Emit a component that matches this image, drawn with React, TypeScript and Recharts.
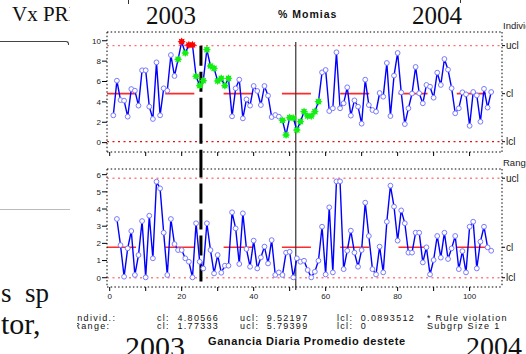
import { ComposedChart, Line, XAxis, YAxis, ReferenceLine } from 'recharts';

// % Momias, individual values (subgroup size 1)
const indiv = [
  2.68, 6.08, 4.18, 4.12, 2.55, 5.26, 5.1, 3.63, 7.1, 7.1,
  3.53, 2.32, 7.88, 2.68, 5.33, 5.1, 8.6, 6.54, 8.18, 9.91,
  8.8, 9.59, 9.59, 6.51, 5.59, 6.08, 9.13, 7.52, 7.29, 6.05,
  6.31, 5.59, 6.31, 2.58, 5.33, 6.18, 2.38, 4.25, 3.63, 5.56,
  5.07, 3.69, 5.56, 4.61, 2.51, 2.71, 2.55, 2.19, 0.75, 2.45,
  2.42, 1.24, 2.06, 3.04, 2.61, 2.61, 3.04, 4.02, 6.9, 7.13,
  3.1, 3.37, 8.87, 3.37, 3.86, 5.43, 2.65, 4.15, 3.53, 1.86,
  6.18, 3.69, 3.2, 3.04, 4.87, 4.51, 7.82, 2.61, 6.58, 8.8,
  4.93, 1.82, 3.37, 4.82, 7.43, 4.85, 3.86, 5.66, 5.49, 4.41,
  6.87, 5.66, 8.21, 7.16, 5.34, 2.88, 3.37, 4.94, 4.74, 1.65,
  4.97, 4.64, 2.05, 5.28, 3.44, 4.97,
];

// moving range, starts at the 2nd observation
const movingRange = [
  3.42, 1.9, 0.06, 1.71, 2.72, 0.16, 1.32, 3.3, 0.02, 3.61,
  1.13, 5.59, 5.2, 2.62, 0.16, 3.42, 1.96, 1.61, 1.61, 1.13,
  0.93, 0.02, 3.17, 0.93, 0.54, 3.17, 1.61, 0.25, 1.32, 0.29,
  0.7, 0.7, 3.81, 2.87, 0.8, 3.75, 1.67, 0.64, 2.16, 0.54,
  1.18, 1.81, 0.83, 2.19, 0.16, 0.31, 0.16, 1.46, 1.51, 0.02,
  1.13, 0.93, 0.99, 0.45, 0.02, 0.35, 0.99, 2.97, 0.19, 4.1,
  0.31, 5.61, 5.61, 0.5, 1.57, 2.74, 1.46, 0.64, 1.61, 4.37,
  2.43, 0.5, 0.19, 1.81, 0.31, 3.26, 5.36, 4.14, 2.16, 3.92,
  3.17, 1.46, 1.46, 2.62, 2.62, 0.89, 1.77, 0.19, 1.03, 2.43,
  1.17, 2.62, 1.09, 1.71, 2.43, 0.5, 1.55, 0.31, 2.97, 3.26,
  0.54, 2.1, 2.97, 1.77, 1.57,
];

const redPoints = [20, 22, 23];
const greenPoints = [19, 21, 24, 25, 26, 27, 28, 29, 30, 31, 32, 33, 48, 49, 50, 51, 52, 53, 54, 55, 56, 57, 58];

const xTicks = [0, 10, 20, 30, 40, 50, 60, 70, 80, 90, 100];
const indivTicks = [0, 2, 4, 6, 8, 10];
const rangeTicks = [0, 1, 2, 3, 4, 5, 6];

const indivCl = 4.80566;
const indivUcl = 9.52197;
const indivLcl = 0.0893512;
const rangeCl = 1.77333;
const rangeUcl = 5.79399;
const rangeLcl = 0;

const phaseBreak = 25.35;
const secondBreak = 51.7;

const rows = indiv.map((v, i) => ({ k: i + 1, ind: v, mr: i === 0 ? null : movingRange[i - 1] }));

const xDomain = [-0.75, 109];
const indivDomain = [-0.92, 10.86];
const rangeDomain = [-0.54, 6.33];

const sans = '"Liberation Sans", Arial, sans-serif';
const serif = '"Liberation Serif", "Times New Roman", serif';
const dotted = { stroke: '#000', strokeDasharray: '1.5 2.2' };
const tickFont = { fontSize: 8, fill: '#222', fontFamily: sans };
const sideFont = { fontSize: 10, fill: '#222', fontFamily: sans };

function star(cx: number, cy: number, fill: string, key: number) {
  const pts: string[] = [];
  for (let i = 0; i < 16; i++) {
    const r = i % 2 === 0 ? 4.1 : 2.5;
    const a = (Math.PI * i) / 8;
    pts.push(`${cx + r * Math.sin(a)},${cy - r * Math.cos(a)}`);
  }
  return <polygon key={key} points={pts.join(' ')} fill={fill} />;
}

const indivDot = (p: any) => {
  const { cx, cy, payload, index } = p;
  if (cx == null || cy == null) return <g key={index} />;
  if (redPoints.includes(payload.k)) return star(cx, cy, '#ff0000', index);
  if (greenPoints.includes(payload.k)) return star(cx, cy, '#11f011', index);
  return <circle key={index} cx={cx} cy={cy} r={2.4} fill="#fff" stroke="#7a7aff" strokeWidth={1} />;
};

const rangeDot = (p: any) => {
  const { cx, cy, index, value } = p;
  if (cx == null || cy == null || value == null) return <g key={index} />;
  return <circle key={index} cx={cx} cy={cy} r={2.4} fill="#fff" stroke="#7a7aff" strokeWidth={1} />;
};

const sideLabel = (ucl: number, cl: number) => (v: number) => (v === ucl ? 'ucl' : v === cl ? 'cl' : 'lcl');

function Txt({ x, y, children, style }: any) {
  return (
    <div style={{ position: 'absolute', left: x, top: y, whiteSpace: 'pre', lineHeight: 1.15, ...style }}>
      {children}
    </div>
  );
}

export default function App() {
  const foot = { fontFamily: sans, fontSize: 9, letterSpacing: 1.3, color: '#111', lineHeight: '8px' };
  return (
    <div style={{ position: 'absolute', left: 0, top: 0, width: 526, height: 354, overflow: 'hidden', background: '#fff' }}>
      {/* surrounding document text */}
      <div style={{ position: 'absolute', left: 0, top: 0, width: 70, height: 32, overflow: 'hidden' }}>
        <Txt x={12} y={2} style={{ fontFamily: serif, fontSize: 21, color: '#111' }}>Vx PRIN</Txt>
      </div>
      <div style={{ position: 'absolute', left: 0, top: 41, width: 68, height: 3, borderTop: '1px solid #444', borderRight: '1px solid #444', borderTopRightRadius: 3 }} />
      <div style={{ position: 'absolute', left: 0, top: 209, width: 70, height: 1, background: '#bbb' }} />
      <Txt x={1} y={279} style={{ fontFamily: serif, fontSize: 27, lineHeight: '28px', color: '#111' }}>s  sp</Txt>
      <Txt x={1} y={309} style={{ fontFamily: serif, fontSize: 30, lineHeight: '30px', color: '#111' }}>tor,</Txt>
      <Txt x={146} y={2} style={{ fontFamily: serif, fontSize: 25, color: '#111' }}>2003</Txt>
      <Txt x={412} y={2} style={{ fontFamily: serif, fontSize: 25, color: '#111' }}>2004</Txt>
      <div style={{ position: 'absolute', left: 128, top: 0, width: 1, height: 4, background: '#333' }} />
      <div style={{ position: 'absolute', left: 460, top: 0, width: 1, height: 3, background: '#333' }} />
      <Txt x={125} y={330} style={{ fontFamily: serif, fontSize: 30, color: '#111' }}>2003</Txt>
      <Txt x={466} y={331} style={{ fontFamily: serif, fontSize: 28, color: '#111' }}>2004</Txt>

      {/* titles and side captions */}
      <Txt x={278} y={8} style={{ fontFamily: sans, fontSize: 10.5, fontWeight: 'bold', letterSpacing: 1, color: '#111' }}>% Momias</Txt>
      <Txt x={208} y={335} style={{ fontFamily: sans, fontSize: 11, fontWeight: 'bold', letterSpacing: 0.6, color: '#111' }}>Ganancia Diaria Promedio destete</Txt>
      <Txt x={503} y={21} style={{ fontFamily: sans, fontSize: 9.5, color: '#222' }}>Individuals</Txt>
      <Txt x={503} y={158} style={{ fontFamily: sans, fontSize: 9.5, color: '#222' }}>Range</Txt>

      {/* individuals chart */}
      <div style={{ position: 'absolute', left: 0, top: 0 }}>
        <ComposedChart width={526} height={160} data={rows} margin={{ top: 32, right: 0, bottom: 0, left: 77 }}>
          <XAxis dataKey="k" type="number" domain={xDomain} allowDataOverflow ticks={xTicks} interval={0}
            tickFormatter={() => ''} tickSize={4} height={8} axisLine={dotted} tickLine={{ stroke: '#000' }} />
          <YAxis type="number" domain={indivDomain} allowDataOverflow ticks={indivTicks} interval={0} width={30}
            tickSize={5} tickMargin={1} tick={tickFont} axisLine={dotted} tickLine={{ stroke: '#000' }} />
          <YAxis yAxisId="right" orientation="right" type="number" domain={indivDomain} allowDataOverflow
            ticks={[indivLcl, indivCl, indivUcl]} interval={0} width={24} tickSize={3} tickMargin={1}
            tickFormatter={sideLabel(indivUcl, indivCl)} tick={sideFont} axisLine={dotted} tickLine={{ stroke: '#000' }} />
          <ReferenceLine y={indivDomain[1]} stroke="#000" strokeDasharray="1.5 2.2" />
          <ReferenceLine y={indivUcl} stroke="#ff7070" strokeDasharray="2 3.5" strokeWidth={1.3} />
          <ReferenceLine y={indivLcl} stroke="#e81010" strokeDasharray="2 3.5" strokeWidth={1.2} />
          <ReferenceLine y={indivCl} stroke="#ff2a2a" strokeDasharray="29 29.3" strokeWidth={1.6} />
          <ReferenceLine ifOverflow="visible" segment={[{ x: phaseBreak, y: indivUcl }, { x: phaseBreak, y: -1.9 }]}
            stroke="#000" strokeWidth={3} strokeDasharray="20 6" />
          <ReferenceLine ifOverflow="visible" segment={[{ x: secondBreak, y: 9.88 }, { x: secondBreak, y: -1.9 }]}
            stroke="#333" strokeWidth={1.2} />
          <Line dataKey="ind" stroke="#0000ff" strokeWidth={1.4} dot={indivDot} isAnimationActive={false} />
        </ComposedChart>
      </div>

      {/* moving range chart */}
      <div style={{ position: 'absolute', left: 0, top: 160 }}>
        <ComposedChart width={526} height={147} data={rows} margin={{ top: 9, right: 0, bottom: 0, left: 77 }}>
          <XAxis dataKey="k" type="number" domain={xDomain} allowDataOverflow ticks={xTicks} interval={0}
            tickFormatter={(v: number) => (v % 20 === 0 ? String(v) : '')} tickSize={4} tickMargin={2} height={20}
            tick={tickFont} axisLine={dotted} tickLine={{ stroke: '#000' }} />
          <YAxis type="number" domain={rangeDomain} allowDataOverflow ticks={rangeTicks} interval={0} width={30}
            tickSize={5} tickMargin={1} tick={tickFont} axisLine={dotted} tickLine={{ stroke: '#000' }} />
          <YAxis yAxisId="right" orientation="right" type="number" domain={rangeDomain} allowDataOverflow
            ticks={[rangeLcl, rangeCl, rangeUcl]} interval={0} width={24} tickSize={3} tickMargin={1}
            tickFormatter={sideLabel(rangeUcl, rangeCl)} tick={sideFont} axisLine={dotted} tickLine={{ stroke: '#000' }} />
          <ReferenceLine y={rangeDomain[1]} stroke="#000" strokeDasharray="1.5 2.2" />
          <ReferenceLine y={rangeUcl} stroke="#ff8080" strokeDasharray="2 3.5" strokeWidth={1.6} />
          <ReferenceLine y={rangeLcl} stroke="#ff8080" strokeDasharray="2 3.5" strokeWidth={1.6} />
          <ReferenceLine y={rangeCl} stroke="#ff2a2a" strokeDasharray="29 29.3" strokeWidth={1.6} />
          <ReferenceLine ifOverflow="visible" segment={[{ x: phaseBreak, y: 7 }, { x: phaseBreak, y: -0.25 }]}
            stroke="#000" strokeWidth={3} strokeDasharray="20 6" />
          <ReferenceLine ifOverflow="visible" segment={[{ x: secondBreak, y: 7 }, { x: secondBreak, y: -0.72 }]}
            stroke="#333" strokeWidth={1.2} />
          <Line dataKey="mr" stroke="#0000ff" strokeWidth={1.4} dot={rangeDot} isAnimationActive={false} connectNulls />
        </ComposedChart>
      </div>

      {/* summary footer */}
      <div style={{ position: 'absolute', left: 77, top: 314, width: 40, height: 18, overflow: 'hidden' }}>
        <Txt x={-3.5} y={0} style={foot}>Individ.:</Txt>
        <Txt x={-3.5} y={8} style={foot}>Range:</Txt>
      </div>
      <Txt x={157} y={314} style={foot}>cl:  4.80566</Txt>
      <Txt x={157} y={322} style={foot}>cl:  1.77333</Txt>
      <Txt x={240} y={314} style={foot}>ucl:  9.52197</Txt>
      <Txt x={240} y={322} style={foot}>ucl:  5.79399</Txt>
      <Txt x={337} y={314} style={foot}>lcl:  0.0893512</Txt>
      <Txt x={337} y={322} style={foot}>lcl:  0</Txt>
      <Txt x={427} y={314} style={foot}>* Rule violation</Txt>
      <Txt x={427} y={322} style={foot}>Subgrp Size 1</Txt>
    </div>
  );
}
